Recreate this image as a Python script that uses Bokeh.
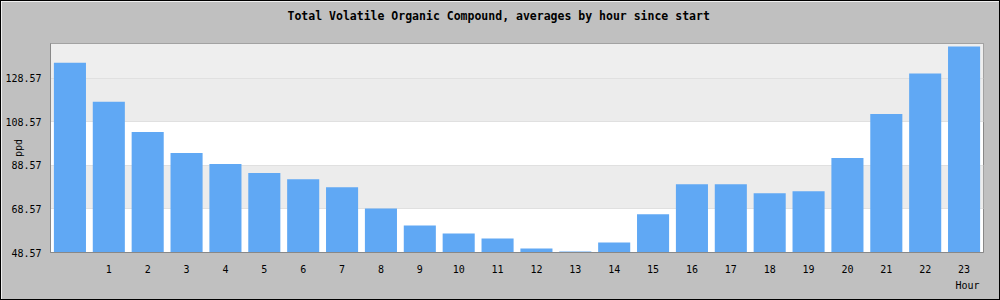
from bokeh.plotting import figure
from bokeh.models import Range1d, FixedTicker, BoxAnnotation, Title
from bokeh.embed import file_html
from bokeh.resources import INLINE

# ---- data ----
hours = list(range(24))
values = [135.6, 117.7, 103.8, 94.2, 89.1, 85.0, 82.2, 78.5, 68.8, 61.0, 57.3, 55.0,
          50.4, 49.0, 53.2, 66.1, 79.9, 79.9, 75.7, 76.7, 91.9, 112.1, 130.6, 143.0]
x_tick_values = list(range(1, 24))
x_tick_labels = [str(h) for h in x_tick_values]
y_tick_values = [48.57, 68.57, 88.57, 108.57, 128.57]
y_tick_labels = ["48.57", "68.57", "88.57", "108.57", "128.57"]
y_min = 48.57
y_max = 144.4

title_text = "Total Volatile Organic Compound, averages by hour since start"
x_label = "Hour"
y_label = "ppd"

MONO = "DejaVu Sans Mono"

p = figure(width=1000, height=300, output_backend="svg", toolbar_location=None,
           x_range=Range1d(-0.5, 23.5), y_range=Range1d(y_min, y_max),
           min_border_left=49, min_border_right=18, min_border_top=41, min_border_bottom=49,
           background_fill_color="white", border_fill_color="#c0c0c0",
           outline_line_color="#888888")
p.styles = {"border": "1px solid black"}

# bands
for lo, hi, col in [(y_tick_values[1], y_tick_values[2], "#ececec"),
                    (y_tick_values[3], y_tick_values[4], "#ececec"),
                    (y_tick_values[4], None, "#eeeeee")]:
    p.add_layout(BoxAnnotation(bottom=lo, top=hi, fill_color=col, fill_alpha=1,
                               line_color=None, level="image"))

p.vbar(x=hours, top=values, bottom=y_min, width=0.825, color="#60a8f4", line_color=None)

p.xgrid.visible = False
p.ygrid.ticker = FixedTicker(ticks=y_tick_values)
p.ygrid.grid_line_color = "#e0e0e0"

p.xaxis.ticker = FixedTicker(ticks=x_tick_values)
p.xaxis.major_label_overrides = {v: l for v, l in zip(x_tick_values, x_tick_labels)}
p.yaxis.ticker = FixedTicker(ticks=y_tick_values)
p.yaxis.major_label_overrides = {v: l for v, l in zip(y_tick_values, y_tick_labels)}

for ax in (p.xaxis[0], p.yaxis[0]):
    ax.axis_line_color = "#888888"
    ax.major_tick_out = 0
    ax.major_tick_in = 0
    ax.minor_tick_out = 0
    ax.minor_tick_in = 0
    ax.major_label_text_font = MONO
    ax.major_label_text_font_size = "10px"
    ax.major_label_text_color = "black"
p.xaxis.major_label_standoff = 12
p.yaxis.major_label_standoff = 9

p.yaxis.axis_label = y_label
p.yaxis.axis_label_text_font = MONO
p.yaxis.axis_label_text_font_size = "10px"
p.yaxis.axis_label_text_font_style = "normal"
p.yaxis.axis_label_text_color = "black"
p.yaxis.axis_label_standoff = -22

p.title.text = title_text
p.title.text_font = MONO
p.title.text_font_style = "bold"
p.title.text_font_size = "11.5px"
p.title.text_color = "black"
p.title.align = "left"
p.title.offset = 237
p.title.standoff = 10

# invisible spacer between the frame and the title to lift the title
p.add_layout(Title(text=" ", text_font_size="12px", standoff=0), "above")

p.add_layout(Title(text=x_label, align="right", offset=4, text_font=MONO,
                   text_font_size="10px", text_font_style="normal",
                   text_color="black", standoff=5), "below")

open("out.html", "w").write(file_html(p, INLINE))
